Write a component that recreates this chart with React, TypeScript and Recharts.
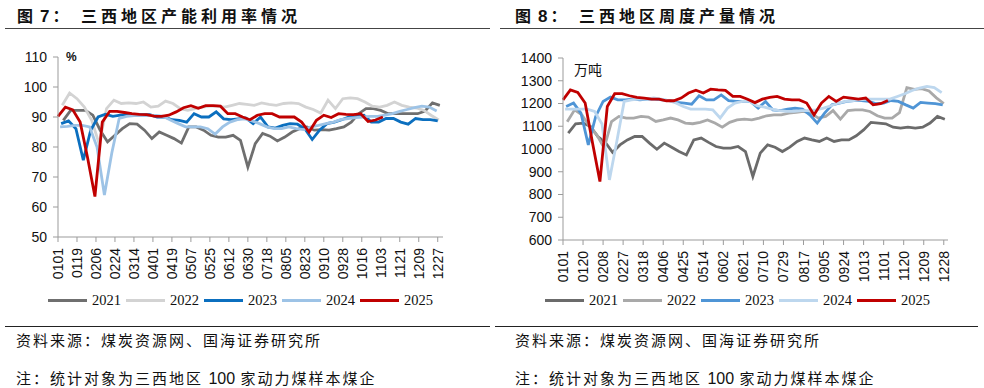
import React from 'react';
import { LineChart, Line, XAxis, YAxis } from 'recharts';

const years = ['2021', '2022', '2023', '2024', '2025'];
// weekly readings, taken every Wednesday; day of year of the first one per year
const firstWed = [6, 5, 4, 3, 1];

const utilTicks = ['0101', '0119', '0206', '0224', '0314', '0401', '0419', '0507', '0525', '0612', '0630',
  '0718', '0805', '0823', '0910', '0928', '1016', '1103', '1121', '1209', '1227'];
const outTicks = ['0101', '0120', '0208', '0227', '0318', '0406', '0425', '0514', '0602', '0621',
  '0710', '0729', '0817', '0905', '0924', '1013', '1101', '1120', '1209', '1228'];

// 产能利用率 (%)
const util2021 = [88.9, 92.2, 92.2, 92.2, 90.6, 85.6, 81.7, 83.9, 86.1, 87.8, 87.6, 85.6, 82.8, 85.0, 83.9, 82.8,
  81.3, 86.7, 86.7, 85.6, 83.9, 83.3, 83.3, 83.9, 82.2, 73.3, 81.1, 84.5, 83.6, 82.0, 83.3, 85.0, 86.1, 86.7,
  85.6, 85.8, 85.6, 86.1, 86.7, 88.3, 91.1, 92.8, 92.8, 92.2, 91.1, 91.1, 91.1, 91.1, 91.1, 92.0, 94.7, 93.9];
const util2022 = [93.9, 98.0, 96.1, 93.3, 88.9, 81.0, 92.8, 95.6, 94.5, 94.7, 94.5, 95.0, 93.3, 93.6, 95.3, 94.5,
  92.8, 92.2, 92.8, 93.3, 93.6, 93.6, 93.3, 93.9, 94.5, 94.2, 93.9, 94.7, 94.2, 93.9, 94.5, 94.7, 94.5, 93.3,
  92.5, 91.3, 95.6, 92.8, 96.1, 96.4, 96.1, 95.0, 93.6, 93.3, 93.9, 95.0, 93.9, 93.3, 93.0, 92.2, 90.5, 89.0];
const util2023 = [87.8, 88.7, 86.1, 75.6, 85.6, 90.0, 90.9, 90.2, 90.6, 90.8, 90.9, 90.8, 90.8, 90.0, 90.0, 89.1,
  88.9, 88.3, 91.1, 90.0, 90.0, 91.7, 89.4, 89.1, 89.4, 89.7, 87.8, 90.0, 86.7, 86.3, 87.2, 87.8, 87.6, 86.1,
  82.5, 85.6, 87.8, 88.3, 89.1, 90.0, 90.2, 90.6, 88.3, 88.3, 89.5, 89.5, 88.3, 87.6, 89.5, 89.1, 89.1, 88.7];
const util2024 = [86.7, 86.9, 87.2, 87.2, 86.7, 80.0, 64.0, 78.0, 89.5, 90.2, 90.5, 90.5, 90.5, 90.5, 90.2, 88.9,
  87.8, 86.7, 86.7, 86.7, 86.1, 84.3, 86.7, 88.3, 89.1, 89.4, 88.7, 87.8, 86.7, 86.1, 86.1, 86.7, 86.1, 85.8,
  86.7, 87.2, 87.8, 88.3, 89.1, 89.5, 89.8, 90.0, 90.2, 90.2, 90.6, 91.1, 91.9, 92.5, 93.1, 93.6, 93.3, 92.0];
const util2025 = [90.2, 93.3, 92.4, 88.3, 76.5, 63.5, 88.3, 91.9, 91.9, 91.5, 91.1, 90.9, 90.8, 90.3, 90.2, 90.6,
  91.7, 93.1, 93.8, 92.9, 93.8, 93.8, 93.6, 91.1, 91.1, 90.0, 89.1, 90.6, 91.1, 91.1, 90.0, 90.0, 90.0, 88.3,
  85.0, 88.9, 90.6, 89.8, 91.1, 90.9, 90.8, 91.1, 88.5, 89.0, 90.0];

// 周度产量 (万吨)
const out2021 = [1070, 1111, 1114, 1099, 1055, 1030, 985, 1018, 1040, 1055, 1055, 1026, 999, 1026, 1008, 989,
  974, 1040, 1048, 1029, 1011, 1004, 1004, 1011, 989, 879, 982, 1018, 1008, 989, 1008, 1033, 1048, 1040,
  1033, 1048, 1033, 1040, 1040, 1058, 1084, 1117, 1114, 1111, 1096, 1092, 1096, 1092, 1096, 1114, 1143, 1131];
const out2022 = [1120, 1172, 1150, 1100, 1062, 1005, 1120, 1143, 1136, 1136, 1143, 1140, 1121, 1128, 1136, 1128,
  1114, 1111, 1117, 1128, 1114, 1096, 1117, 1128, 1131, 1128, 1136, 1146, 1150, 1150, 1158, 1161, 1165, 1158,
  1136, 1143, 1169, 1131, 1169, 1172, 1172, 1165, 1146, 1136, 1136, 1160, 1270, 1262, 1265, 1255, 1225, 1200];
const out2023 = [1187, 1202, 1158, 1018, 1143, 1209, 1228, 1216, 1216, 1219, 1216, 1219, 1219, 1216, 1213, 1205,
  1202, 1197, 1234, 1216, 1216, 1238, 1213, 1209, 1209, 1208, 1180, 1209, 1172, 1169, 1175, 1180, 1175, 1150,
  1114, 1158, 1194, 1202, 1209, 1213, 1213, 1209, 1199, 1202, 1213, 1209, 1194, 1180, 1205, 1202, 1199, 1194];
const out2024 = [1175, 1175, 1175, 1175, 1165, 1110, 864, 1033, 1209, 1216, 1219, 1219, 1224, 1219, 1213, 1202,
  1187, 1175, 1175, 1175, 1172, 1136, 1180, 1202, 1209, 1209, 1190, 1184, 1175, 1169, 1165, 1165, 1169, 1169,
  1172, 1180, 1190, 1202, 1209, 1213, 1216, 1219, 1219, 1219, 1219, 1231, 1243, 1257, 1268, 1275, 1270, 1248];
const out2025 = [1216, 1260, 1249, 1202, 1026, 857, 1187, 1243, 1243, 1234, 1227, 1224, 1219, 1219, 1212, 1212,
  1224, 1246, 1258, 1246, 1263, 1260, 1258, 1231, 1231, 1219, 1204, 1219, 1227, 1231, 1219, 1216, 1216, 1202,
  1150, 1202, 1231, 1209, 1228, 1224, 1219, 1224, 1194, 1199, 1213];

const utilColors = ['#6f6f6f', '#d3d3d3', '#0b6fbf', '#9dc3e6', '#c00000'];
const outColors = ['#6b6b6b', '#a9a9a9', '#4f95d6', '#bdd7ee', '#c00000'];

const monthDays = [31, 28, 31, 30, 31, 30, 31, 31, 30, 31, 30, 31];
const dayOfYear = (mmdd: string) => {
  const m = parseInt(mmdd.slice(0, 2), 10);
  const d = parseInt(mmdd.slice(2), 10);
  return monthDays.slice(0, m - 1).reduce((a, b) => a + b, 0) + d;
};

const buildRows = (series: number[][]) => {
  const map = new Map<number, any>();
  series.forEach((vals, k) => {
    vals.forEach((v, i) => {
      const x = firstWed[k] + 7 * i;
      const row = map.get(x) ?? { x };
      row['y' + years[k]] = v;
      map.set(x, row);
    });
  });
  return [...map.values()].sort((a, b) => a.x - b.x);
};

const utilRows = buildRows([util2021, util2022, util2023, util2024, util2025]);
const outRows = buildRows([out2021, out2022, out2023, out2024, out2025]);

const sans = '"Liberation Sans", Arial, sans-serif';
const serif = '"Liberation Serif", "Times New Roman", serif';
const cjk = '"Noto Sans CJK SC", sans-serif';
const axisGray = '#9b9b9b';

const makeTick = (labels: string[]) => (props: any) => {
  const { x, y, payload } = props;
  const label = labels.find((l) => dayOfYear(l) === payload.value) ?? '';
  return (
    <text x={x} y={y} transform={`rotate(-90 ${x} ${y})`} textAnchor="end" dy="0.36em"
      fontSize={14} fontFamily={sans} fill="#111">
      {label}
    </text>
  );
};

const LegendRow = ({ left, colors }: { left: number; colors: string[] }) => (
  <div style={{ position: 'absolute', left, top: 292, display: 'flex', alignItems: 'center',
    fontFamily: serif, fontSize: 14.5, lineHeight: '17px', color: '#111' }}>
    {years.map((y, k) => (
      <div key={y} style={{ display: 'flex', alignItems: 'center', marginRight: 5 }}>
        <div style={{ width: 39, height: 3, background: colors[k], marginRight: 5 }} />
        <span>{y}</span>
      </div>
    ))}
  </div>
);

const Title = ({ left, num, text }: { left: number; num: string; text: string }) => (
  <div style={{ position: 'absolute', left, top: 4, height: 22, fontFamily: cjk, fontWeight: 700,
    fontSize: 16, lineHeight: '22px', color: '#111', whiteSpace: 'nowrap' }}>
    <span>图</span>
    <span style={{ fontFamily: sans, fontSize: 17, margin: '0 3px 0 7px' }}>{num}</span>
    <span>：</span>
    <span style={{ position: 'absolute', left: 64, letterSpacing: 4 }}>{text}</span>
  </div>
);

const Notes = ({ left }: { left: number }) => (
  <>
    <div style={{ position: 'absolute', left, top: 331, fontFamily: cjk, fontSize: 15, lineHeight: '18px',
      letterSpacing: 2, color: '#111', whiteSpace: 'nowrap' }}>资料来源：煤炭资源网、国海证券研究所</div>
    <div style={{ position: 'absolute', left, top: 369, fontFamily: cjk, fontSize: 15, lineHeight: '18px',
      letterSpacing: 2, color: '#111', whiteSpace: 'nowrap' }}>
      注：统计对象为三西地区 <span style={{ fontFamily: sans, fontSize: 16, letterSpacing: 0 }}>100</span> 家动力煤样本煤企
    </div>
  </>
);

const App = () => {
  return (
    <div style={{ position: 'absolute', left: 0, top: 0, width: 984, height: 388, background: '#fff', overflow: 'hidden' }}>
      <Title left={17} num="7" text="三西地区产能利用率情况" />
      <Title left={515} num="8" text="三西地区周度产量情况" />
      <div style={{ position: 'absolute', left: 5, top: 28, width: 485, height: 1, background: '#444' }} />
      <div style={{ position: 'absolute', left: 500, top: 28, width: 484, height: 1, background: '#444' }} />

      <div style={{ position: 'absolute', left: 0, top: 0 }}>
        <LineChart width={490} height={290} data={utilRows} margin={{ top: 57, right: 47, bottom: 0, left: 18 }}>
          <XAxis dataKey="x" type="number" domain={[1, 366]} ticks={utilTicks.map(dayOfYear)} interval={0}
            height={53} tickSize={5} tickMargin={6} tick={makeTick(utilTicks)}
            axisLine={{ stroke: axisGray }} tickLine={{ stroke: axisGray }} />
          <YAxis type="number" domain={[50, 110]} ticks={[50, 60, 70, 80, 90, 100, 110]} interval={0} width={40}
            tickSize={5} tickMargin={6} tick={{ fontSize: 14, fontFamily: sans, fill: '#111' }}
            axisLine={{ stroke: axisGray }} tickLine={{ stroke: axisGray }} />
          {years.map((y, k) => (
            <Line key={y} type="linear" dataKey={'y' + y} stroke={utilColors[k]} strokeWidth={2.8}
              dot={false} connectNulls isAnimationActive={false} />
          ))}
        </LineChart>
      </div>
      <div style={{ position: 'absolute', left: 66, top: 50, fontFamily: sans, fontWeight: 700, fontSize: 12, color: '#111' }}>%</div>

      <div style={{ position: 'absolute', left: 495, top: 0 }}>
        <LineChart width={489} height={290} data={outRows} margin={{ top: 58, right: 36, bottom: 0, left: 18 }}>
          <XAxis dataKey="x" type="number" domain={[1, 366]} ticks={outTicks.map(dayOfYear)} interval={0}
            height={50} tickSize={5} tickMargin={6} tick={makeTick(outTicks)}
            axisLine={{ stroke: axisGray }} tickLine={{ stroke: axisGray }} />
          <YAxis type="number" domain={[600, 1400]} ticks={[600, 700, 800, 900, 1000, 1100, 1200, 1300, 1400]}
            interval={0} width={50} tickSize={5} tickMargin={6} tick={{ fontSize: 14, fontFamily: sans, fill: '#111' }}
            axisLine={{ stroke: axisGray }} tickLine={{ stroke: axisGray }} />
          {years.map((y, k) => (
            <Line key={y} type="linear" dataKey={'y' + y} stroke={outColors[k]} strokeWidth={2.8}
              dot={false} connectNulls isAnimationActive={false} />
          ))}
        </LineChart>
      </div>
      <div style={{ position: 'absolute', left: 574, top: 59, fontFamily: cjk, fontSize: 14, color: '#111' }}>万吨</div>

      <LegendRow left={48} colors={utilColors} />
      <LegendRow left={545} colors={outColors} />

      <div style={{ position: 'absolute', left: 5, top: 326, width: 485, height: 1, background: '#222' }} />
      <div style={{ position: 'absolute', left: 495, top: 326, width: 483, height: 1, background: '#222' }} />
      <Notes left={16} />
      <Notes left={515} />
    </div>
  );
};

export default App;
